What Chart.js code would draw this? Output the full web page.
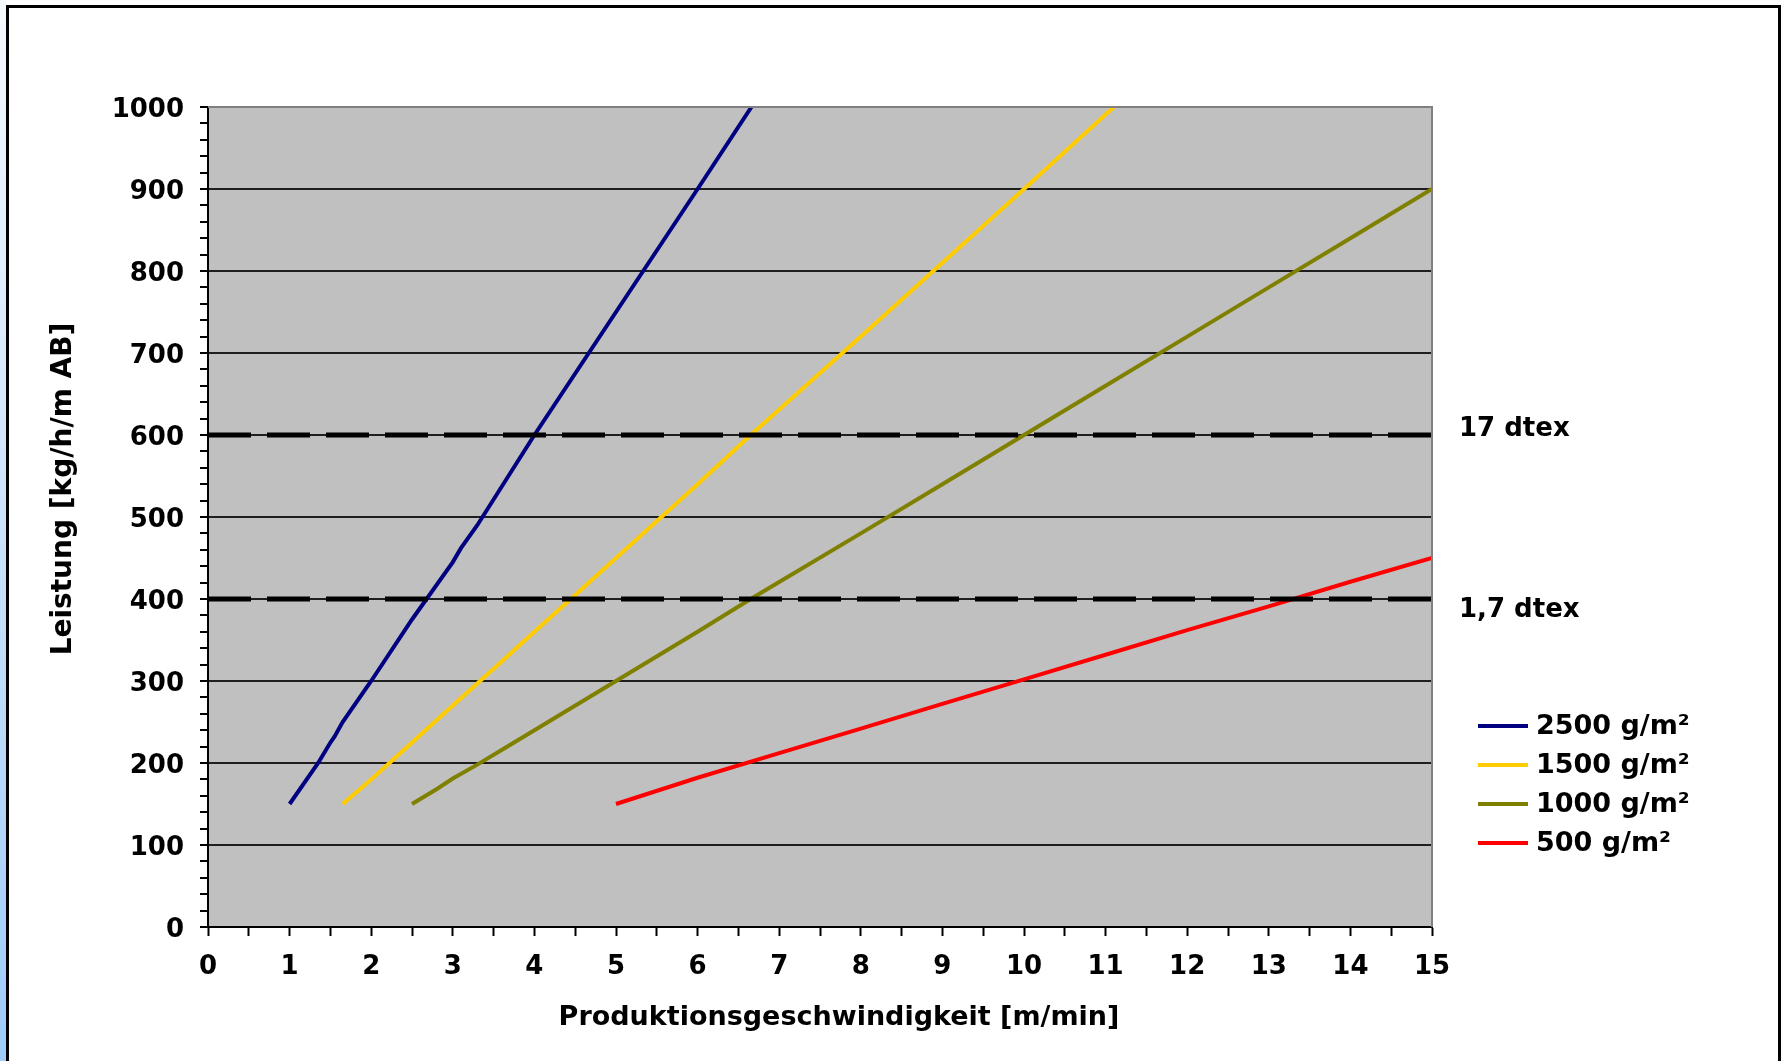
<!DOCTYPE html>
<html>
<head>
<meta charset="utf-8">
<script src="https://cdn.jsdelivr.net/npm/chart.js@4.4.1/dist/chart.umd.min.js"></script>
<style>
  html, body { margin: 0; padding: 0; background: #fff; overflow: hidden; }
  canvas { display: block; }
</style>
</head>
<body>
<canvas id="chart" width="1783" height="1061"></canvas>
<script>
// values: speed [m/min] -> output [kg/h/m AB]
const blueX = [1, 1.35, 1.5, 1.55, 1.65, 2, 2.5, 3, 3.1, 3.3, 4, 5, 6, 6.66];
const blueY = [150, 200, 225, 232, 250, 300, 375, 445, 462, 490, 600, 750, 900, 1000];
const yellowX = [1.65, 2, 2.5, 3, 3.5, 4, 4.5, 5, 6, 6.65, 8, 9, 10, 11.1];
const yellowY = [150, 180, 225, 270, 315, 360, 405, 450, 540, 600, 720, 810, 900, 1000];
const oliveX = [2.5, 2.8, 3, 3.3, 3.7, 4, 5, 6, 6.65, 8, 9, 10, 11, 12, 13, 14, 15];
const oliveY = [150, 168, 181, 198, 222, 240, 300, 360, 400, 480, 540, 600, 660, 720, 780, 840, 900];
const redX = [5, 6, 7, 8, 9, 10, 11, 12, 13, 14, 15];
const redY = [150, 182, 212, 242, 272, 302, 332, 362, 391, 421, 450];

const seriesLabels = ['2500 g/m²', '1500 g/m²', '1000 g/m²', '500 g/m²'];
const seriesColors = ['#000080', '#FFCC00', '#808000', '#FF0000'];

const limitLevels = [600, 400];
const limitLabels = ['17 dtex', '1,7 dtex'];
const limitRange = [0, 15];

const xTitle = 'Produktionsgeschwindigkeit [m/min]';
const yTitle = 'Leistung [kg/h/m AB]';

const FONT = 'DejaVu Sans';

function pts(xs, ys) {
  return xs.map((x, i) => ({ x: x, y: ys[i] }));
}

const seriesData = [pts(blueX, blueY), pts(yellowX, yellowY), pts(oliveX, oliveY), pts(redX, redY)];

const datasets = seriesData.map((d, i) => ({
  label: seriesLabels[i],
  data: d,
  borderColor: seriesColors[i],
  borderWidth: 4,
  pointRadius: 0,
  tension: 0,
  order: 2
}));

limitLevels.forEach(level => {
  datasets.push({
    label: 'limit ' + level,
    data: limitRange.map(x => ({ x: x, y: level })),
    borderColor: '#000',
    borderWidth: 5,
    borderDash: [43, 16],
    borderCapStyle: 'butt',
    pointRadius: 0,
    order: 1
  });
});

const decorPlugin = {
  id: 'decor',
  beforeDraw(chart) {
    const c = chart.ctx;
    const a = chart.chartArea;
    c.save();
    // left edge strip
    const g = c.createLinearGradient(0, 0, 0, chart.height);
    g.addColorStop(0, '#f6f9fe');
    g.addColorStop(1, '#9ecbf9');
    c.fillStyle = g;
    c.fillRect(0, 0, 6, chart.height);
    // frame
    c.strokeStyle = '#000';
    c.lineWidth = 3;
    c.beginPath();
    c.moveTo(7.5, chart.height + 5);
    c.lineTo(7.5, 6.5);
    c.lineTo(1779.5, 6.5);
    c.lineTo(1779.5, chart.height + 5);
    c.stroke();
    // plot background
    c.fillStyle = '#C0C0C0';
    c.fillRect(a.left, a.top, a.right - a.left, a.bottom - a.top);
    c.restore();
  },
  afterDraw(chart) {
    const c = chart.ctx;
    const a = chart.chartArea;
    const ys = chart.scales.y;
    c.save();
    // top and right plot border
    c.strokeStyle = '#808080';
    c.lineWidth = 2;
    c.beginPath();
    c.moveTo(a.left, a.top);
    c.lineTo(a.right, a.top);
    c.lineTo(a.right, a.bottom);
    c.stroke();

    c.fillStyle = '#000';
    c.font = 'bold 26px "' + FONT + '"';
    c.textBaseline = 'middle';
    c.textAlign = 'left';
    // dtex labels
    c.fillText(limitLabels[0], 1459, ys.getPixelForValue(limitLevels[0]) - 6);
    c.fillText(limitLabels[1], 1459, ys.getPixelForValue(limitLevels[1]) + 11);

    // legend
    c.font = 'bold 27px "' + FONT + '"';
    for (let i = 0; i < seriesLabels.length; i++) {
      const y = 726 + i * 39;
      c.strokeStyle = seriesColors[i];
      c.lineWidth = 4;
      c.beginPath();
      c.moveTo(1478, y);
      c.lineTo(1528, y);
      c.stroke();
      c.fillText(seriesLabels[i], 1536, y + 1);
    }

    // axis titles
    c.font = 'bold 27px "' + FONT + '"';
    c.textAlign = 'center';
    c.fillText(xTitle, 839, 1018);
    c.translate(64, 489);
    c.rotate(-Math.PI / 2);
    c.font = 'bold 28px "' + FONT + '"';
    c.fillText(yTitle, 0, 0);
    c.restore();
  }
};

Chart.defaults.font.family = FONT;
Chart.defaults.font.weight = 'bold';
Chart.defaults.font.size = 26;
Chart.defaults.color = '#000';

new Chart(document.getElementById('chart'), {
  type: 'line',
  data: { datasets: datasets },
  options: {
    responsive: false,
    animation: false,
    devicePixelRatio: 1,
    layout: { padding: { left: 0, top: 107, right: 351, bottom: 0 } },
    plugins: {
      legend: { display: false },
      tooltip: { enabled: false }
    },
    scales: {
      x: {
        type: 'linear',
        min: 0,
        max: 15,
        afterFit: s => { s.height = 134; },
        ticks: {
          stepSize: 0.5,
          autoSkip: false,
          maxRotation: 0,
          padding: 16,
          callback: v => (Number.isInteger(v) ? v : '')
        },
        grid: {
          drawOnChartArea: false,
          drawTicks: true,
          tickLength: 9,
          tickColor: '#000',
          tickWidth: 2
        },
        border: { display: true, color: '#000', width: 2 }
      },
      y: {
        min: 0,
        max: 1000,
        afterFit: s => { s.width = 208; },
        ticks: {
          stepSize: 20,
          autoSkip: false,
          padding: 16,
          labelOffset: 3,
          callback: v => (v % 100 === 0 ? v : '')
        },
        grid: {
          drawTicks: true,
          tickLength: 8,
          tickColor: '#000',
          tickWidth: 2,
          lineWidth: 2,
          color: ctx => {
            const v = ctx.tick ? ctx.tick.value : 0;
            if (v % 100 !== 0) return 'rgba(0,0,0,0)';
            return v === 1000 ? '#808080' : '#1e1e1e';
          }
        },
        border: { display: true, color: '#000', width: 2 }
      }
    }
  },
  plugins: [decorPlugin]
});
</script>
</body>
</html>
